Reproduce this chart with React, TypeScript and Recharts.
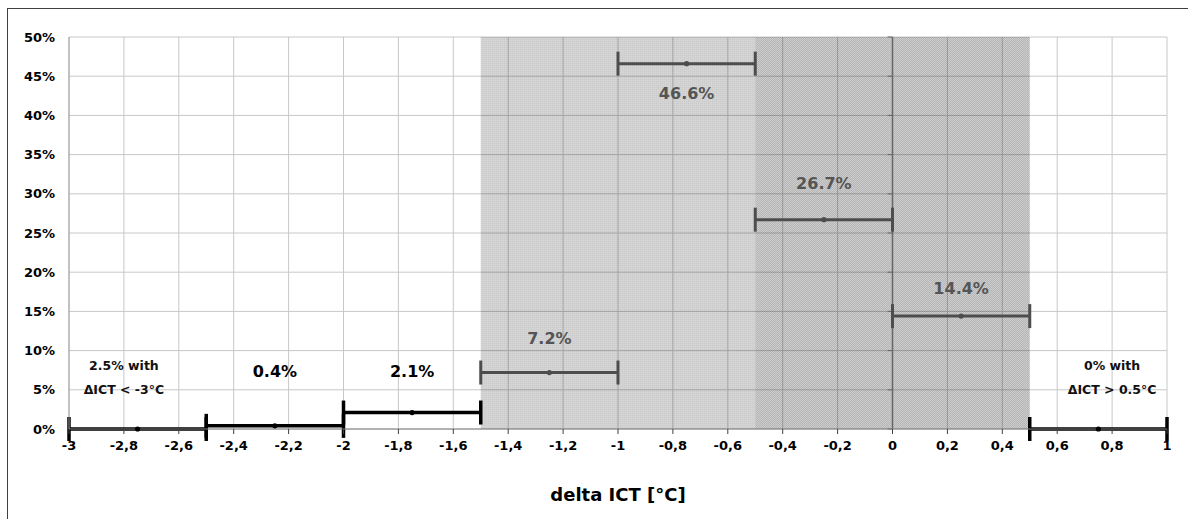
import {
  ComposedChart,
  XAxis,
  YAxis,
  CartesianGrid,
  Scatter,
  ErrorBar,
  ReferenceArea,
  ReferenceLine,
  ReferenceDot,
} from "recharts";

// bins of delta ICT, share of cases per bin
const binCenters = [-2.75, -2.25, -1.75, -1.25, -0.75, -0.25, 0.25, 0.75];
const binHalfWidths = [0.25, 0.25, 0.25, 0.25, 0.25, 0.25, 0.25, 0.25];
const binShares = [0, 0.4, 2.1, 7.2, 46.6, 26.7, 14.4, 0];
const binInBand = [false, false, false, true, true, true, true, false];

const xTicks = [
  -3, -2.8, -2.6, -2.4, -2.2, -2, -1.8, -1.6, -1.4, -1.2, -1, -0.8, -0.6,
  -0.4, -0.2, 0, 0.2, 0.4, 0.6, 0.8, 1,
];
const yTicks = [0, 5, 10, 15, 20, 25, 30, 35, 40, 45, 50];

const shareLabels = ["0.4%", "2.1%", "7.2%", "46.6%", "26.7%", "14.4%"];
const shareLabelX = [-2.25, -1.75, -1.25, -0.75, -0.25, 0.25];
const shareLabelY = [7.3, 7.3, 11.6, 42.8, 31.3, 18.0];
const shareLabelDark = [true, true, false, false, false, false];

const noteLines = [
  ["2.5% with", "ΔICT < -3°C"],
  ["0% with", "ΔICT > 0.5°C"],
];
const noteX = [-2.8, 0.8];
const noteLineY = [8.1, 5.0];

const lightBand = [-1.5, -0.5];
const darkBand = [-0.5, 0.5];

const BLACK = "#000000";
const DARK_GRAY = "#4d4d4d";
const LABEL_GRAY = "#555555";
const FONT = "DejaVu Sans";

const points = binCenters.map((x, i) => ({
  x,
  y: binShares[i],
  err: binHalfWidths[i],
  band: binInBand[i],
}));
const outerPoints = points.filter((p) => !p.band);
const bandPoints = points.filter((p) => p.band);

function MidDot(props: any) {
  const { cx, cy, fill } = props;
  return <circle cx={cx} cy={cy} r={2.6} fill={fill} />;
}

const fmtX = (v: number) => String(v).replace(".", ",");

export default function App() {
  return (
    <div
      style={{
        position: "absolute",
        top: 8,
        left: 7,
        width: 1181,
        height: 511,
        borderTop: "1px solid #404040",
        borderLeft: "1px solid #404040",
        boxSizing: "border-box",
        background: "#fff",
        overflow: "hidden",
      }}
    >
      <ComposedChart
        width={1180}
        height={510}
        margin={{ top: 28, right: 21, left: 11, bottom: 20 }}
      >
        <defs>
          <pattern id="lightDots" width="2" height="2" patternUnits="userSpaceOnUse">
            <rect width="2" height="2" fill="rgba(0,0,0,0.17)" />
            <rect width="1" height="1" fill="rgba(0,0,0,0.05)" />
          </pattern>
          <pattern id="darkDots" width="2" height="2" patternUnits="userSpaceOnUse">
            <rect width="2" height="2" fill="rgba(0,0,0,0.2)" />
            <rect width="1" height="1" fill="rgba(0,0,0,0.11)" />
            <rect x="1" y="1" width="1" height="1" fill="rgba(0,0,0,0.11)" />
          </pattern>
        </defs>
        <CartesianGrid stroke="#c8c8c8" />
        <XAxis
          type="number"
          dataKey="x"
          domain={[-3, 1]}
          ticks={xTicks}
          interval={0}
          tickFormatter={fmtX}
          height={70}
          axisLine={{ stroke: "#808080" }}
          tickLine={{ stroke: "#404040" }}
          tickSize={5}
          tickMargin={7}
          tick={{ fill: "#000", fontSize: 13, fontWeight: "bold", fontFamily: FONT }}
          label={{
            value: "delta ICT [°C]",
            position: "insideBottom",
            offset: -2,
            fill: "#000",
            fontSize: 18,
            fontWeight: "bold",
            fontFamily: FONT,
          }}
        />
        <YAxis
          type="number"
          dataKey="y"
          domain={[0, 50]}
          ticks={yTicks}
          interval={0}
          width={50}
          tickFormatter={(v: number) => `${v}%`}
          axisLine={{ stroke: "#a0a0a0" }}
          tickLine={false}
          tickSize={0}
          tickMargin={14}
          tick={{ fill: "#000", fontSize: 13, fontWeight: "bold", fontFamily: FONT }}
        />
        <ReferenceArea x1={lightBand[0]} x2={lightBand[1]} fill="url(#lightDots)" fillOpacity={1} stroke="none" />
        <ReferenceArea x1={darkBand[0]} x2={darkBand[1]} fill="url(#darkDots)" fillOpacity={1} stroke="none" />
        <ReferenceLine x={0} stroke="#666" strokeWidth={1.5} />
        {yTicks.map((t) => (
          <ReferenceLine
            key={`yt-${t}`}
            segment={[
              { x: -0.018, y: t },
              { x: 0, y: t },
            ]}
            stroke="#666"
            strokeWidth={1}
          />
        ))}
        <Scatter
          data={outerPoints}
          dataKey="y"
          fill={BLACK}
          shape={<MidDot />}
          isAnimationActive={false}
        >
          <ErrorBar dataKey="err" direction="x" width={12} strokeWidth={3.5} stroke={BLACK} isAnimationActive={false} />
        </Scatter>
        <Scatter
          data={bandPoints}
          dataKey="y"
          fill={DARK_GRAY}
          shape={<MidDot />}
          isAnimationActive={false}
        >
          <ErrorBar dataKey="err" direction="x" width={12} strokeWidth={3} stroke={DARK_GRAY} isAnimationActive={false} />
        </Scatter>
        {shareLabels.map((txt, i) => (
          <ReferenceDot
            key={`sl-${i}`}
            x={shareLabelX[i]}
            y={shareLabelY[i]}
            r={0}
            fill="none"
            stroke="none"
            label={{
              value: txt,
              position: "center",
              fill: shareLabelDark[i] ? BLACK : LABEL_GRAY,
              fontSize: 16,
              fontWeight: "bold",
              fontFamily: FONT,
            }}
          />
        ))}
        {noteLines.map((lines, i) =>
          lines.map((txt, j) => (
            <ReferenceDot
              key={`nl-${i}-${j}`}
              x={noteX[i]}
              y={noteLineY[j]}
              r={0}
              fill="none"
              stroke="none"
              label={{
                value: txt,
                position: "center",
                fill: "#111",
                fontSize: 12.5,
                fontWeight: "bold",
                fontFamily: FONT,
              }}
            />
          ))
        )}
      </ComposedChart>
    </div>
  );
}
